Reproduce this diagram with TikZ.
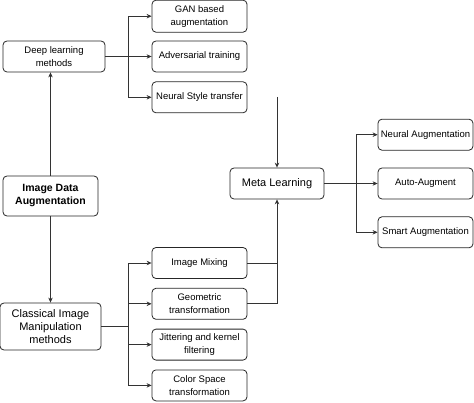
\documentclass[tikz,border=0pt]{standalone}
\usepackage{fontspec}
\setmainfont{Liberation Sans}
\usetikzlibrary{arrows.meta, positioning, calc}

\begin{document}
\begin{tikzpicture}[
        x=1pt, y=1pt,
        item/.style = {rectangle, draw=black!85, line width=0.8pt, rounded corners=4pt, minimum width=95pt, minimum height=31pt, align=center, inner sep=1pt, font=\fontsize{9.5}{12.8}\selectfont},
        big/.style = {item, font=\fontsize{11}{13}\selectfont},
        line/.style = {->, line width=0.7pt, black!80},
        >={Stealth[length=5pt, width=4.5pt]},
    ]
        \useasboundingbox (0,0) rectangle (474,402);
        % left column
        \node[item, minimum width=102pt] (DL) at (54,345.5) {Deep learning\\methods};
        \node[item, minimum height=40pt, font=\fontsize{10.5}{13}\selectfont\bfseries] (IDA) at (50.5,206) {Image Data\\Augmentation};
        \node[big, minimum width=101pt, minimum height=47pt] (CIM) at (50.5,75.5) {Classical Image\\Manipulation\\methods};
        % deep learning branch
        \node[item] (ADV) at (199.5,345.5) {Adversarial training};
        \node[item, minimum height=32pt, above=8pt of ADV] (GAN) {GAN based\\augmentation};
        \node[item, below=9pt of ADV] (NST) {Neural Style transfer};
        % classical branch
        \node[item] (IM) at (199.5,139) {Image Mixing};
        \node[item, below=9pt of IM] (GT) {Geometric\\transformation};
        \node[item, below=9pt of GT] (JK) {Jittering and kernel\\filtering};
        \node[item, below=9pt of JK] (CS) {Color Space\\transformation};
        % meta learning
        \node[big, minimum width=94pt] (ML) at (277,218.5) {Meta Learning};
        \node[item] (AA) at (425.5,218.5) {Auto-Augment};
        \node[item, above=17pt of AA] (NA) {Neural Augmentation};
        \node[item, below=17pt of AA] (SA) {Smart Augmentation};

        % branch points
        \coordinate (B1) at ($(DL.east)+(23,0)$);
        \coordinate (B2) at ($(CIM.east)+(27,0)$);
        \coordinate (B3) at ($(ML.east)+(32,0)$);
        \coordinate (MT) at (277,305);

        \draw [line] (IDA.north) -- (IDA.north |- DL.south);
        \draw [line] (IDA.south) -- (IDA.south |- CIM.north);
        \draw [line] (DL) -- (ADV);
        \draw [line] (B1) |- (GAN);
        \draw [line] (B1) |- (NST);
        \draw [line, -] (CIM) -- (B2);
        \foreach \n in {IM,GT,JK,CS}{
            \draw [line] (B2) |- (\n);
        }
        \draw [line] (MT) -- (ML);
        \draw [line] (IM) -| (ML);
        \draw [line, -] (GT) -| (IM.east -| ML.south);
        \draw [line] (ML) -- (AA);
        \draw [line] (B3) |- (NA);
        \draw [line] (B3) |- (SA);
    \end{tikzpicture}
\end{document}
